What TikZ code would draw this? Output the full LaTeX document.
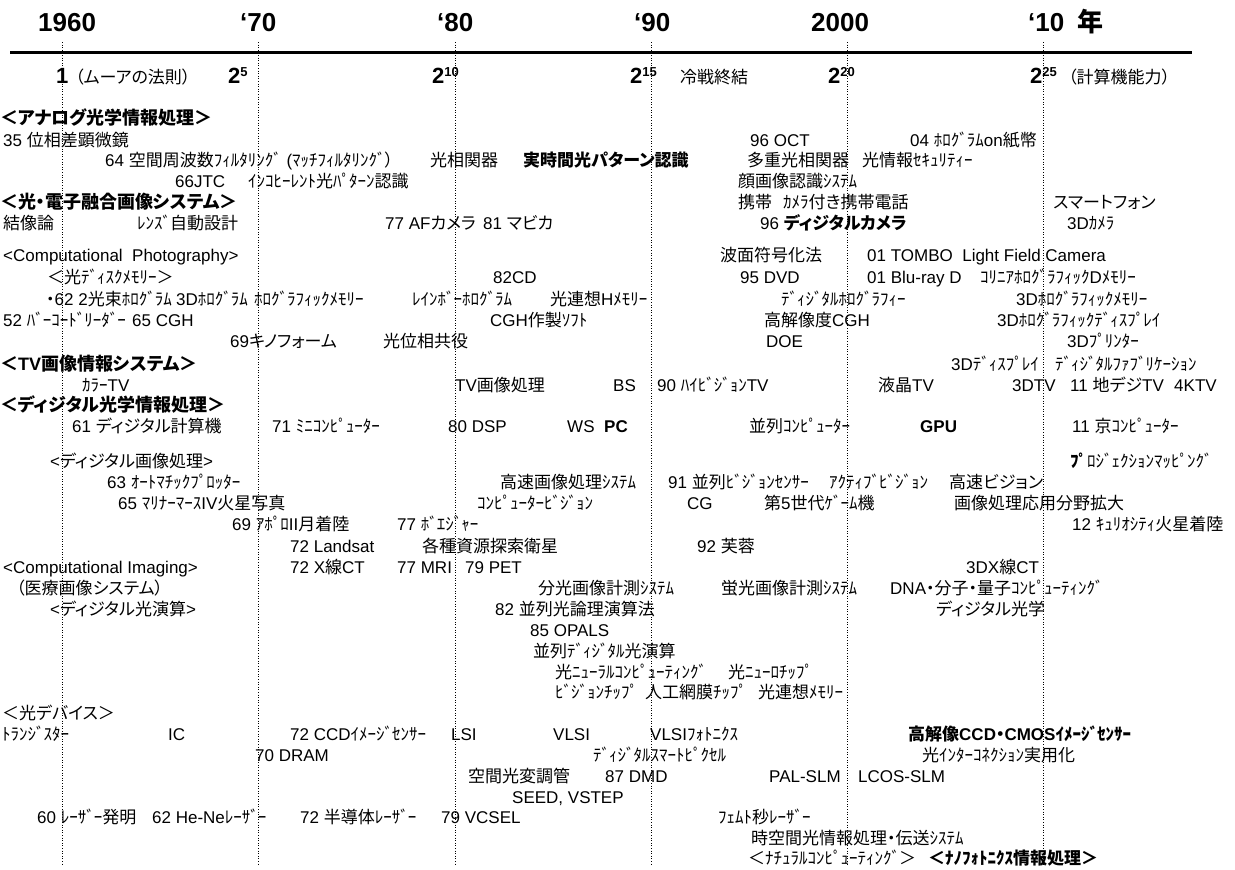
\documentclass[tikz,border=0pt]{standalone}
\usepackage{fontspec}
\setmainfont{Liberation Sans}
\newfontfamily\jpf[RawFeature=+palt]{Noto Sans CJK JP}
\newXeTeXintercharclass\CJKcls
\newXeTeXintercharclass\DAKcls
\newcount\ccnt
\newcommand\setcharcls[3]{\ccnt=#1\relax\loop\XeTeXcharclass\ccnt=#3\relax\ifnum\ccnt<#2\relax\advance\ccnt by 1\relax\repeat}
\setcharcls{"0000}{"2FFF}{0}
\setcharcls{"3000}{"30FF}{\CJKcls}
\setcharcls{"3400}{"4DBF}{\CJKcls}
\setcharcls{"4E00}{"9FFF}{\CJKcls}
\setcharcls{"FF00}{"FFEF}{\CJKcls}
\XeTeXcharclass"FF9E=\DAKcls
\XeTeXcharclass"FF9F=\DAKcls
\XeTeXinterchartoks 0 \CJKcls = {\jpf}
\XeTeXinterchartoks 4095 \CJKcls = {\jpf}
\XeTeXinterchartoks \CJKcls 0 = {\rmfamily}
\XeTeXinterchartoks \CJKcls 4095 = {\rmfamily}
\XeTeXinterchartoks \DAKcls \CJKcls = {\kern-1pt}
\XeTeXinterchartoks 0 \DAKcls = {\jpf}
\XeTeXinterchartoks 4095 \DAKcls = {\jpf}
\XeTeXinterchartoks \DAKcls 0 = {\rmfamily}
\XeTeXinterchartoks \DAKcls 4095 = {\rmfamily}
\XeTeXinterchartokenstate=1
\newcommand\sx[1]{\raisebox{7pt}{\fontsize{13}{13}\selectfont #1}}
\tikzset{
  t/.style={anchor=base west, inner sep=0pt, font=\fontsize{17}{20}\selectfont},
  tb/.style={t, font=\fontsize{17}{20}\selectfont\bfseries},
  hd/.style={t, font=\fontsize{18}{21}\selectfont\bfseries},
  yr/.style={anchor=base west, inner sep=0pt, font=\fontsize{26}{28}\selectfont\bfseries},
  mo/.style={anchor=base west, inner sep=0pt, font=\fontsize{22}{24}\selectfont\bfseries},
  dotline/.style={line width=1pt, dash pattern=on 1pt off 1.6pt},
  axisline/.style={line width=3pt}
}
\begin{document}
\begin{tikzpicture}[x=1pt,y=-1pt]
\fill[white] (0,0) rectangle (1235,870);
\useasboundingbox (0,0) rectangle (1235,870);
% axis and decade lines
\coordinate (axL) at (10,52);
\coordinate (axR) at (1192,52);
\draw[axisline] (axL) -- (axR);
\foreach \nm/\xx in {a/62,b/258,c/455,d/651,e/847,f/1043}{
  \coordinate (top\nm) at (\xx,42);
  \coordinate (bot\nm) at (\xx,866);
  \draw[dotline] (top\nm) -- (bot\nm);
}
% years
\node[yr] (y60) at (38,31) {1960};
\node[yr] (y70) at (240,31) {‘70};
\node[yr] (y80) at (437,31) {‘80};
\node[yr] (y90) at (634,31) {‘90};
\node[yr] (y00) at (811,31) {2000};
\node[yr] (y10) at (1028,31) {‘10};
\node[yr] (nen) at (1077,31) {年};
% Moore row
\node[mo] (m1) at (56,83) {1};
\node[t] (mlaw) at (75,83) {（ムーアの法則）};
\node[mo] (m5) at (228,83) {2\sx{5}};
\node[mo] (m10) at (432,83) {2\sx{10}};
\node[mo] (m15) at (630,83) {2\sx{15}};
\node[t] (mcw) at (680,83) {冷戦終結};
\node[mo] (m20) at (828,83) {2\sx{20}};
\node[mo] (m25) at (1030,83) {2\sx{25}};
\node[t] (mcap) at (1068,83) {（計算機能力）};
% R1
\node[hd] (hA) at (0,124) {＜アナログ光学情報処理＞};
% R2
\node[t] (a35) at (3,146) {35 位相差顕微鏡};
\node[t] (oct) at (750,146) {96 OCT};
\node[t] (holo04) at (910,146) {04 ﾎﾛｸﾞﾗﾑon紙幣};
% R3
\node[t] (f64) at (105,166) {64 空間周波数ﾌｨﾙﾀﾘﾝｸﾞ (ﾏｯﾁﾌｨﾙﾀﾘﾝｸﾞ）};
\node[t] (corr) at (430,166) {光相関器};
\node[tb] (rtpr) at (523,166) {実時間光パターン認識};
\node[t] (mcorr) at (747,166) {多重光相関器};
\node[t] (sec) at (862,166) {光情報ｾｷｭﾘﾃｨｰ};
% R4
\node[t] (jtc) at (175,187) {66JTC};
\node[t] (incoh) at (248,187) {ｲﾝｺﾋｰﾚﾝﾄ光ﾊﾟﾀｰﾝ認識};
\node[t] (face) at (738,187) {顔画像認識ｼｽﾃﾑ};
% R5
\node[hd] (hB) at (0,208) {＜光・電子融合画像システム＞};
\node[t] (keitai) at (738,208) {携帯};
\node[t] (camph) at (783,208) {ｶﾒﾗ付き携帯電話};
\node[t] (smart) at (1053,208) {スマートフォン};
% R6
\node[t] (kz) at (3,229) {結像論};
\node[t] (lens) at (137,229) {ﾚﾝｽﾞ自動設計};
\node[t] (af) at (385,229) {77 AFカメラ};
\node[t] (mav) at (483,229) {81 マビカ};
\node[t] (dc) at (760,229) {96 \textbf{ディジタルカメラ}};
\node[t] (cam3d) at (1067,229) {3Dｶﾒﾗ};
% R7
\node[t] (cp) at (3,261) {<Computational\ \ Photography>};
\node[t] (wfc) at (720,261) {波面符号化法};
\node[t] (tombo) at (867,261) {01 TOMBO\ \ Light Field Camera};
% R8
\node[t] (odm) at (47,283) {＜光ﾃﾞｨｽｸﾒﾓﾘｰ＞};
\node[t] (cd) at (493,283) {82CD};
\node[t] (dvd) at (740,283) {95 DVD};
\node[t] (bd) at (867,283) {01 Blu-ray D};
\node[t] (coll) at (980,283) {ｺﾘﾆｱﾎﾛｸﾞﾗﾌｨｯｸDﾒﾓﾘｰ};
% R9
\node[t] (h62) at (46,305) {・62 2光束ﾎﾛｸﾞﾗﾑ};
\node[t] (h3d) at (176,305) {3Dﾎﾛｸﾞﾗﾑ};
\node[t] (hmem) at (254,305) {ﾎﾛｸﾞﾗﾌｨｯｸﾒﾓﾘｰ};
\node[t] (rain) at (412,305) {ﾚｲﾝﾎﾞｰﾎﾛｸﾞﾗﾑ};
\node[t] (assoc) at (550,305) {光連想Hﾒﾓﾘｰ};
\node[t] (dh) at (781,305) {ﾃﾞｨｼﾞﾀﾙﾎﾛｸﾞﾗﾌｨｰ};
\node[t] (h3dm) at (1016,305) {3Dﾎﾛｸﾞﾗﾌｨｯｸﾒﾓﾘｰ};
% R10
\node[t] (bar) at (3,326) {52 ﾊﾞｰｺｰﾄﾞﾘｰﾀﾞｰ};
\node[t] (cgh) at (132,326) {65 CGH};
\node[t] (cghsw) at (490,326) {CGH作製ｿﾌﾄ};
\node[t] (hrcgh) at (764,326) {高解像度CGH};
\node[t] (h3dd) at (997,326) {3Dﾎﾛｸﾞﾗﾌｨｯｸﾃﾞｨｽﾌﾟﾚｲ};
% R11
\node[t] (kino) at (230,347) {69キノフォーム};
\node[t] (pconj) at (383,347) {光位相共役};
\node[t] (doe) at (766,347) {DOE};
\node[t] (pr3d) at (1067,347) {3Dﾌﾟﾘﾝﾀｰ};
% R12
\node[hd] (hTV) at (0,370) {＜TV画像情報システム＞};
\node[t] (d3d) at (951,370) {3Dﾃﾞｨｽﾌﾟﾚｲ};
\node[t] (dfab) at (1055,370) {ﾃﾞｨｼﾞﾀﾙﾌｧﾌﾞﾘｹｰｼｮﾝ};
% R13
\node[t] (ctv) at (82,391) {ｶﾗｰTV};
\node[t] (tvp) at (455,391) {TV画像処理};
\node[t] (bs) at (613,391) {BS};
\node[t] (hv) at (657,391) {90 ﾊｲﾋﾞｼﾞｮﾝTV};
\node[t] (lcd) at (878,391) {液晶TV};
\node[t] (tv3d) at (1012,391) {3DTV};
\node[t] (dtv) at (1070,391) {11 地デジTV};
\node[t] (k4) at (1174,391) {4KTV};
% R14
\node[hd] (hD) at (0,411) {＜ディジタル光学情報処理＞};
% R15
\node[t] (dc61) at (72,432) {61 ディジタル計算機};
\node[t] (mini) at (272,432) {71 ﾐﾆｺﾝﾋﾟｭｰﾀｰ};
\node[t] (dsp) at (448,432) {80 DSP};
\node[t] (ws) at (567,432) {WS};
\node[tb] (pcb) at (604,432) {PC};
\node[t] (par) at (749,432) {並列ｺﾝﾋﾟｭｰﾀｰ};
\node[tb] (gpu) at (920,432) {GPU};
\node[t] (kei) at (1072,432) {11 京ｺﾝﾋﾟｭｰﾀｰ};
% R16
\node[t] (dip) at (50,467) {<ディジタル画像処理>};
\node[t, font=\fontsize{17}{20}\selectfont\jpf] (pm) at (1070,467) {{\bfseries ﾌﾟ}ﾛｼﾞｪｸｼｮﾝﾏｯﾋﾟﾝｸﾞ};
% R17
\node[t] (ap63) at (107,488) {63 ｵｰﾄﾏﾁｯｸﾌﾟﾛｯﾀｰ};
\node[t] (hsip) at (500,488) {高速画像処理ｼｽﾃﾑ};
\node[t] (pvs) at (668,488) {91 並列ﾋﾞｼﾞｮﾝｾﾝｻｰ};
\node[t] (av) at (829,488) {ｱｸﾃｨﾌﾞﾋﾞｼﾞｮﾝ};
\node[t] (hsv) at (949,488) {高速ビジョン};
% R18
\node[t] (mar) at (118,509) {65 ﾏﾘﾅｰﾏｰｽIV火星写真};
\node[t] (cv) at (477,509) {ｺﾝﾋﾟｭｰﾀｰﾋﾞｼﾞｮﾝ};
\node[t] (cg) at (687,509) {CG};
\node[t] (g5) at (764,509) {第5世代ｹﾞｰﾑ機};
\node[t] (ipa) at (954,509) {画像処理応用分野拡大};
% R19
\node[t] (apo) at (232,530) {69 ｱﾎﾟﾛII月着陸};
\node[t] (voy) at (397,530) {77 ﾎﾞｴｼﾞｬｰ};
\node[t] (cur) at (1072,530) {12 ｷｭﾘｵｼﾃｨ火星着陸};
% R20
\node[t] (land) at (290,552) {72 Landsat};
\node[t] (res) at (422,552) {各種資源探索衛星};
\node[t] (fuyo) at (697,552) {92 芙蓉};
% R21
\node[t] (ci) at (3,573) {<Computational Imaging>};
\node[t] (xct) at (290,573) {72 X線CT};
\node[t] (mri) at (397,573) {77 MRI};
\node[t] (pet) at (465,573) {79 PET};
\node[t] (xct3) at (966,573) {3DX線CT};
% R22
\node[t] (med) at (16,594) {（医療画像システム）};
\node[t] (spec) at (538,594) {分光画像計測ｼｽﾃﾑ};
\node[t] (fluo) at (721,594) {蛍光画像計測ｼｽﾃﾑ};
\node[t] (dna) at (890,594) {DNA・分子・量子ｺﾝﾋﾟｭｰﾃｨﾝｸﾞ};
% R23
\node[t] (dop) at (50,615) {<ディジタル光演算>};
\node[t] (plo) at (495,615) {82 並列光論理演算法};
\node[t] (dopt) at (936,615) {ディジタル光学};
% R24
\node[t] (opals) at (530,636) {85 OPALS};
% R25
\node[t] (pdo) at (533,657) {並列ﾃﾞｨｼﾞﾀﾙ光演算};
% R26
\node[t] (onc) at (555,678) {光ﾆｭｰﾗﾙｺﾝﾋﾟｭｰﾃｨﾝｸﾞ};
\node[t] (onchip) at (728,678) {光ﾆｭｰﾛﾁｯﾌﾟ};
% R27
\node[t] (vchip) at (555,698) {ﾋﾞｼﾞｮﾝﾁｯﾌﾟ};
\node[t] (ret) at (645,698) {人工網膜ﾁｯﾌﾟ};
\node[t] (oam) at (758,698) {光連想ﾒﾓﾘｰ};
% R28
\node[t] (hdev) at (2,719) {＜光デバイス＞};
% R29
\node[t] (tr) at (2,740) {ﾄﾗﾝｼﾞｽﾀｰ};
\node[t] (ic) at (168,740) {IC};
\node[t] (ccd) at (290,740) {72 CCDｲﾒｰｼﾞｾﾝｻｰ};
\node[t] (lsi) at (451,740) {LSI};
\node[t] (vlsi) at (553,740) {VLSI};
\node[t] (vlsip) at (650,740) {VLSIﾌｫﾄﾆｸｽ};
\node[tb] (hccd) at (908,740) {高解像CCD・CMOSｲﾒｰｼﾞｾﾝｻｰ};
% R30
\node[t] (dram) at (255,761) {70 DRAM};
\node[t] (dsp2) at (593,761) {ﾃﾞｨｼﾞﾀﾙｽﾏｰﾄﾋﾟｸｾﾙ};
\node[t] (oic) at (922,761) {光ｲﾝﾀｰｺﾈｸｼｮﾝ実用化};
% R31
\node[t] (slm) at (468,782) {空間光変調管};
\node[t] (dmd) at (605,782) {87 DMD};
\node[t] (pal) at (769,782) {PAL-SLM};
\node[t] (lcos) at (858,782) {LCOS-SLM};
% R32
\node[t] (seed) at (512,803) {SEED, VSTEP};
% R33
\node[t] (las60) at (37,823) {60 ﾚｰｻﾞｰ発明};
\node[t] (hene) at (152,823) {62 He-Neﾚｰｻﾞｰ};
\node[t] (semi) at (300,823) {72 半導体ﾚｰｻﾞｰ};
\node[t] (vcsel) at (441,823) {79 VCSEL};
\node[t] (femto) at (718,823) {ﾌｪﾑﾄ秒ﾚｰｻﾞｰ};
% R34
\node[t] (st) at (751,844) {時空間光情報処理・伝送ｼｽﾃﾑ};
% R35
\node[t] (nat) at (748,864) {＜ﾅﾁｭﾗﾙｺﾝﾋﾟｭｰﾃｨﾝｸﾞ＞};
\node[tb] (nano) at (928,864) {＜ﾅﾉﾌｫﾄﾆｸｽ情報処理＞};
\end{tikzpicture}
\end{document}
